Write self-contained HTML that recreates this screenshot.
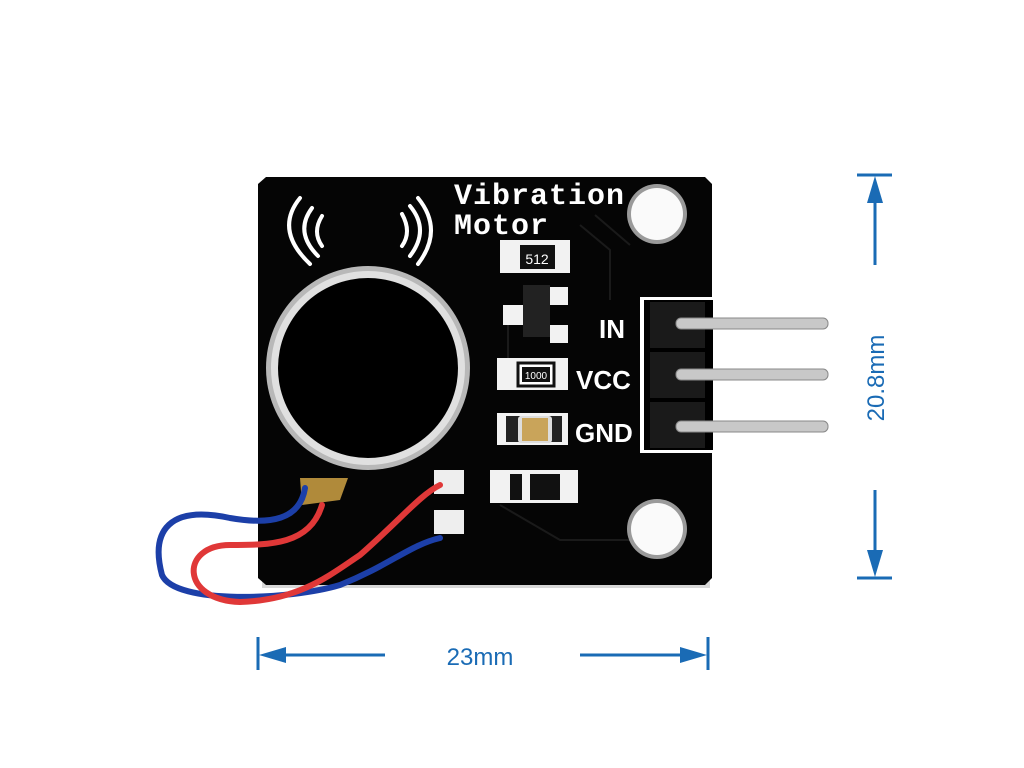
<!DOCTYPE html>
<html><head><meta charset="utf-8"><style>
html,body{margin:0;padding:0;background:#fff;}
svg{display:block}
</style></head><body>
<svg width="1024" height="768" viewBox="0 0 1024 768" xmlns="http://www.w3.org/2000/svg">
<rect width="1024" height="768" fill="#fff"/>
<rect x="262" y="580" width="448" height="8" fill="#d8d8d8"/>
<path d="M266 177 L705 177 L712 184 L712 578 L705 585 L266 585 L258 578 L258 184 Z" fill="#050505"/>
<g stroke="#1a1a1a" stroke-width="2" fill="none">
<path d="M580 225 L610 250 L610 300"/>
<path d="M595 215 L630 245"/>
<path d="M508 320 L508 360"/><path d="M500 505 L560 540 L640 540"/>
</g>
<circle cx="657" cy="214" r="30" fill="#9a9a9a"/>
<circle cx="657" cy="214" r="26" fill="#fafafa"/>
<circle cx="657" cy="529" r="30" fill="#9a9a9a"/>
<circle cx="657" cy="529" r="26" fill="#fafafa"/>
<g stroke="#fff" stroke-width="4" fill="none" stroke-linecap="round">
<path d="M300 198 Q274 230 310 264"/>
<path d="M312 208 Q294 232 318 256"/>
<path d="M322 216 Q312 232 322 246"/>
<path d="M418 198 Q444 230 418 264"/>
<path d="M410 206 Q430 230 410 256"/>
<path d="M402 214 Q412 232 402 246"/>
</g>
<text x="454" y="204" font-family="Liberation Mono, monospace" font-size="30" fill="#fff" font-weight="bold" textLength="170">Vibration</text>
<text x="454" y="234" font-family="Liberation Mono, monospace" font-size="30" fill="#fff" font-weight="bold" textLength="94">Motor</text>
<circle cx="368" cy="368" r="102" fill="#b8b8b8"/>
<circle cx="368" cy="368" r="97" fill="#e0e0e0"/>
<circle cx="368" cy="368" r="90" fill="#000"/>
<path d="M300 478 L348 478 L340 500 L302 505 Z" fill="#b08a3a"/>
<rect x="500" y="240" width="70" height="33" fill="#f2f2f2"/>
<rect x="520" y="245" width="35" height="24" fill="#111"/>
<text x="537" y="264" font-family="Liberation Sans, sans-serif" font-size="14" fill="#fff" text-anchor="middle">512</text>
<rect x="550" y="287" width="18" height="18" fill="#f2f2f2"/>
<rect x="503" y="305" width="20" height="20" fill="#f2f2f2"/>
<rect x="550" y="325" width="18" height="18" fill="#f2f2f2"/>
<rect x="523" y="285" width="27" height="52" fill="#222"/>
<rect x="497" y="358" width="71" height="32" fill="#f2f2f2"/>
<rect x="518" y="363" width="36" height="23" fill="#fff" stroke="#111" stroke-width="3"/>
<rect x="522" y="367" width="28" height="15" fill="#111"/>
<text x="536" y="379" font-family="Liberation Sans, sans-serif" font-size="10" fill="#fff" text-anchor="middle">1000</text>
<rect x="497" y="413" width="71" height="32" fill="#f2f2f2"/>
<rect x="506" y="416" width="14" height="26" fill="#222"/>
<rect x="548" y="416" width="14" height="26" fill="#222"/>
<rect x="518" y="416" width="34" height="27" fill="#ddd" rx="3"/>
<rect x="522" y="418" width="26" height="23" fill="#c9a45a"/>
<rect x="490" y="470" width="88" height="33" fill="#f2f2f2"/>
<rect x="510" y="474" width="12" height="26" fill="#111"/>
<rect x="530" y="474" width="30" height="26" fill="#111"/>
<rect x="434" y="470" width="30" height="24" fill="#eee"/>
<rect x="434" y="510" width="30" height="24" fill="#eee"/>
<g font-family="Liberation Sans, sans-serif" font-size="26" font-weight="bold" fill="#fff">
<text x="599" y="338">IN</text>
<text x="576" y="389">VCC</text>
<text x="575" y="442">GND</text>
</g>
<rect x="640" y="297" width="73" height="156" fill="#fff"/>
<rect x="644" y="300" width="69" height="150" fill="#000"/>
<rect x="650" y="302" width="55" height="46" fill="#1a1a1a"/>
<rect x="650" y="352" width="55" height="46" fill="#1a1a1a"/>
<rect x="650" y="402" width="55" height="46" fill="#1a1a1a"/>
<g fill="#c8c8c8" stroke="#888" stroke-width="1">
<rect x="676" y="318" width="152" height="11" rx="5"/>
<rect x="676" y="369" width="152" height="11" rx="5"/>
<rect x="676" y="421" width="152" height="11" rx="5"/>
</g>
<g fill="none" stroke-width="6" stroke-linecap="round">
<path d="M305 488 C300 520 270 525 230 518 C170 505 150 530 162 575 C175 605 290 600 340 585 C390 565 410 545 440 538" stroke="#1c3fa8"/>
<path d="M322 505 C310 545 270 545 230 545 C180 545 180 600 240 602 C300 600 330 575 360 555 C400 520 420 495 440 485" stroke="#e03838"/>
</g>
<g stroke="#1a6bb5" stroke-width="3" fill="#1a6bb5">
<line x1="857" y1="175" x2="892" y2="175"/>
<line x1="875" y1="190" x2="875" y2="265"/>
<line x1="857" y1="578" x2="892" y2="578"/>
<line x1="875" y1="490" x2="875" y2="565"/>
<line x1="258" y1="637" x2="258" y2="670"/>
<line x1="270" y1="655" x2="385" y2="655"/>
<line x1="708" y1="637" x2="708" y2="670"/>
<line x1="580" y1="655" x2="695" y2="655"/>
</g>
<g fill="#1a6bb5">
<polygon points="875,176 867,203 883,203"/>
<polygon points="875,577 867,550 883,550"/>
<polygon points="259,655 286,647 286,663"/>
<polygon points="707,655 680,647 680,663"/>
</g>
<text x="480" y="665" font-family="Liberation Sans, sans-serif" font-size="24" fill="#1a6bb5" text-anchor="middle">23mm</text>
<text transform="translate(884,378) rotate(-90)" font-family="Liberation Sans, sans-serif" font-size="24" fill="#1a6bb5" text-anchor="middle">20.8mm</text>
</svg>
</body></html>
